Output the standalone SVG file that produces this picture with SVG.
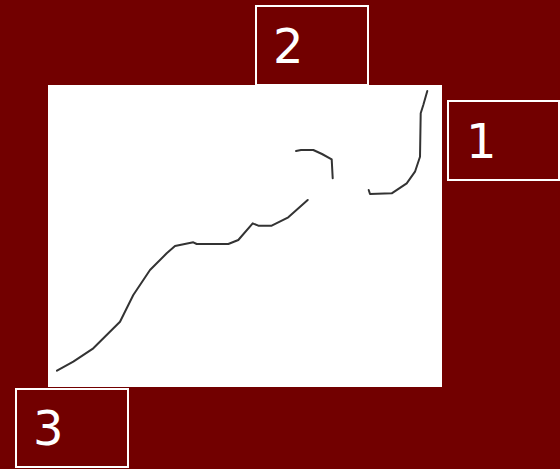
<svg xmlns="http://www.w3.org/2000/svg" width="560" height="469" viewBox="0 0 560 469">
<style>
.lbl{fill:#720000;stroke:#fff;stroke-width:2}
.num{fill:#fff;font-family:"DejaVu Sans",Verdana,sans-serif;font-size:48px}
.ink{fill:none;stroke:#333;stroke-width:2;stroke-linecap:round;stroke-linejoin:round}
</style>
<rect x="0" y="0" width="560" height="469" fill="#720000"/>
<rect id="panel" x="48" y="85" width="394" height="302" fill="#fff"/>
<g id="node-2"><rect class="lbl" x="256" y="6" width="112" height="79"/><text class="num" x="273" y="63">2</text></g>
<g id="node-1"><rect class="lbl" x="448" y="101" width="111" height="79"/><text class="num" x="466" y="158">1</text></g>
<g id="node-3"><rect class="lbl" x="16" y="389" width="112" height="78"/><text class="num" x="33" y="445">3</text></g>
<g id="connectors">
<path class="ink" d="M57,370.7 L73.3,361.7 L93.3,348.3 L120,321.7 L133.3,295 L150,270 L166.7,253.3 L175,246 L193.3,242.3 L196.7,244 L228.3,244 L238.3,240 L252.7,223.3 L258.3,225.7 L271.7,225.7 L288.3,217.3 L307.7,200"/>
<path class="ink" d="M296,151 L301,150 L313.3,150 L322,154 L331.7,159.3 L332.7,178.3"/>
<path class="ink" d="M427.3,91 L423.3,105 L420.7,113.3 L420,156.7 L415,171.7 L406.7,183.3 L391.7,193.3 L370,194 L368.7,190"/>
</g>
</svg>
